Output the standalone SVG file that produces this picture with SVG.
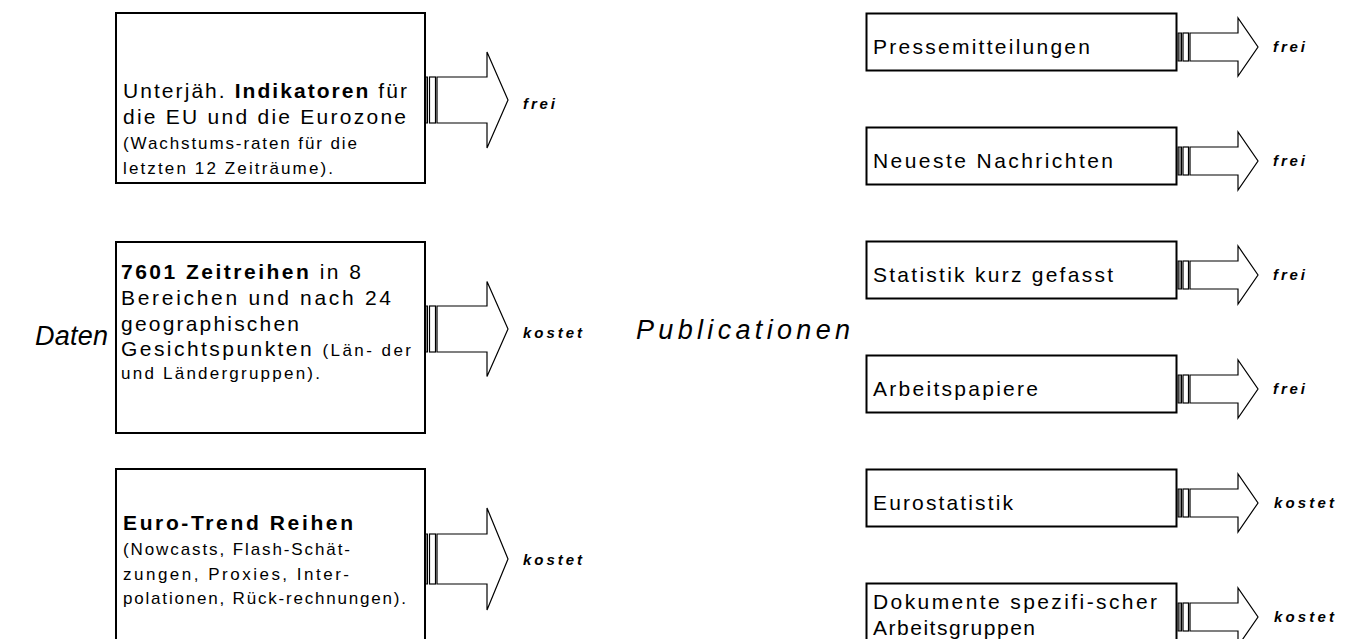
<svg xmlns="http://www.w3.org/2000/svg" width="1348" height="639" viewBox="0 0 1348 639">
<style>
.box{fill:#fff;stroke:#000;stroke-width:2}
.t{font-family:"Liberation Sans",Arial,sans-serif;fill:#000}
.m{font-size:21px}
.s{font-size:17px}
.b{font-weight:bold}
.lab{font-family:"Liberation Sans",Arial,sans-serif;font-size:15px;font-weight:bold;font-style:italic;fill:#000}
.big{font-family:"Liberation Sans",Arial,sans-serif;font-size:27px;font-style:italic;fill:#000}
.arr{fill:#fff;stroke:#000;stroke-width:1.2}
.st1{fill:#808080;stroke:#000;stroke-width:1}
.st2{fill:#fff;stroke:#000;stroke-width:1.2}
</style>
<rect width="1348" height="639" fill="#fff"/>

<text class="big" x="35" y="345" textLength="73" lengthAdjust="spacing">Daten</text>
<text class="big" x="636" y="339" textLength="214" lengthAdjust="spacing">Publicationen</text>

<g id="connectors">
  <rect class="st1" x="424.5" y="77" width="3" height="46"/>
  <rect class="st2" x="429.5" y="77" width="6" height="46"/>
  <path class="arr" d="M437,77 H487 V52 L508,100 L487,148 V123 H437 Z"/>
  <rect class="st1" x="424.5" y="306" width="3" height="46"/>
  <rect class="st2" x="429.5" y="306" width="6" height="46"/>
  <path class="arr" d="M437,306 H487 V281.5 L508,329 L487,376.5 V352 H437 Z"/>
  <rect class="st1" x="424.5" y="534" width="3" height="50"/>
  <rect class="st2" x="429.5" y="534" width="6" height="50"/>
  <path class="arr" d="M437,534 H487 V508 L508,559 L487,610 V584 H437 Z"/>
  <rect class="st1" x="1178" y="33" width="3.5" height="28"/>
  <rect class="st2" x="1183" y="33" width="5.5" height="28"/>
  <path class="arr" d="M1190,33 H1238 V18 L1258,47 L1238,76 V61 H1190 Z"/>
  <rect class="st1" x="1178" y="147" width="3.5" height="28"/>
  <rect class="st2" x="1183" y="147" width="5.5" height="28"/>
  <path class="arr" d="M1190,147 H1238 V132 L1258,161 L1238,190 V175 H1190 Z"/>
  <rect class="st1" x="1178" y="261" width="3.5" height="28"/>
  <rect class="st2" x="1183" y="261" width="5.5" height="28"/>
  <path class="arr" d="M1190,261 H1238 V246 L1258,275 L1238,304 V289 H1190 Z"/>
  <rect class="st1" x="1178" y="375" width="3.5" height="28"/>
  <rect class="st2" x="1183" y="375" width="5.5" height="28"/>
  <path class="arr" d="M1190,375 H1238 V360 L1258,389 L1238,418 V403 H1190 Z"/>
  <rect class="st1" x="1178" y="489" width="3.5" height="28"/>
  <rect class="st2" x="1183" y="489" width="5.5" height="28"/>
  <path class="arr" d="M1190,489 H1238 V474 L1258,503 L1238,532 V517 H1190 Z"/>
  <rect class="st1" x="1178" y="603" width="3.5" height="28"/>
  <rect class="st2" x="1183" y="603" width="5.5" height="28"/>
  <path class="arr" d="M1190,603 H1238 V588 L1258,617 L1238,646 V631 H1190 Z"/>
</g>

<g id="labels">
  <text class="lab" x="523" y="109" textLength="32" lengthAdjust="spacing">frei</text>
  <text class="lab" x="523" y="338" textLength="59" lengthAdjust="spacing">kostet</text>
  <text class="lab" x="523" y="565" textLength="59" lengthAdjust="spacing">kostet</text>
  <text class="lab" x="1273" y="52" textLength="32" lengthAdjust="spacing">frei</text>
  <text class="lab" x="1273" y="166" textLength="32" lengthAdjust="spacing">frei</text>
  <text class="lab" x="1273" y="280" textLength="32" lengthAdjust="spacing">frei</text>
  <text class="lab" x="1273" y="394" textLength="32" lengthAdjust="spacing">frei</text>
  <text class="lab" x="1274" y="508" textLength="60" lengthAdjust="spacing">kostet</text>
  <text class="lab" x="1274" y="622" textLength="60" lengthAdjust="spacing">kostet</text>
</g>

<g id="node-indikatoren">
  <rect class="box" x="116" y="13" width="309" height="170"/>
  <text class="t m" x="123" y="98" textLength="284" lengthAdjust="spacing">Unterjäh. <tspan class="b">Indikatoren</tspan> für</text>
  <text class="t m" x="123" y="124" textLength="283" lengthAdjust="spacing">die EU und die Eurozone</text>
  <text class="t s" x="123" y="149" textLength="234" lengthAdjust="spacing">(Wachstums-raten für die</text>
  <text class="t s" x="123" y="174" textLength="210" lengthAdjust="spacing">letzten 12 Zeiträume).</text>
</g>

<g id="node-zeitreihen">
  <rect class="box" x="116" y="242" width="309" height="191"/>
  <text class="t m" x="121" y="279" textLength="240" lengthAdjust="spacing"><tspan class="b">7601 Zeitreihen</tspan> in 8</text>
  <text class="t m" x="121" y="305" textLength="270" lengthAdjust="spacing">Bereichen und nach 24</text>
  <text class="t m" x="121" y="331" textLength="178" lengthAdjust="spacing">geographischen</text>
  <text class="t m" x="121" y="356" textLength="290" lengthAdjust="spacing">Gesichtspunkten <tspan class="s">(Län- der</tspan></text>
  <text class="t s" x="121" y="379" textLength="199" lengthAdjust="spacing">und Ländergruppen).</text>
</g>

<g id="node-eurotrend">
  <rect class="box" x="116" y="469" width="309" height="190"/>
  <text class="t m b" x="123" y="530" textLength="230" lengthAdjust="spacing">Euro-Trend Reihen</text>
  <text class="t s" x="123" y="555" textLength="227" lengthAdjust="spacing">(Nowcasts, Flash-Schät-</text>
  <text class="t s" x="123" y="580" textLength="226" lengthAdjust="spacing">zungen, Proxies, Inter-</text>
  <text class="t s" x="123" y="604" textLength="283" lengthAdjust="spacing">polationen, Rück-rechnungen).</text>
</g>

<g id="node-presse">
  <rect class="box" x="866.5" y="13.5" width="310" height="57"/>
  <text class="t m" x="873" y="54" textLength="217" lengthAdjust="spacing">Pressemitteilungen</text>
</g>
<g id="node-nachrichten">
  <rect class="box" x="866.5" y="127.5" width="310" height="57"/>
  <text class="t m" x="873" y="168" textLength="240" lengthAdjust="spacing">Neueste Nachrichten</text>
</g>
<g id="node-statistik">
  <rect class="box" x="866.5" y="241.5" width="310" height="57"/>
  <text class="t m" x="873" y="282" textLength="240" lengthAdjust="spacing">Statistik kurz gefasst</text>
</g>
<g id="node-arbeitspapiere">
  <rect class="box" x="866.5" y="355.5" width="310" height="57"/>
  <text class="t m" x="873" y="396" textLength="165" lengthAdjust="spacing">Arbeitspapiere</text>
</g>
<g id="node-eurostatistik">
  <rect class="box" x="866.5" y="469.5" width="310" height="57"/>
  <text class="t m" x="873" y="510" textLength="140" lengthAdjust="spacing">Eurostatistik</text>
</g>
<g id="node-dokumente">
  <rect class="box" x="866.5" y="583.5" width="310" height="70"/>
  <text class="t m" x="873" y="609" textLength="284" lengthAdjust="spacing">Dokumente spezifi-scher</text>
  <text class="t m" x="873" y="635" textLength="162" lengthAdjust="spacing">Arbeitsgruppen</text>
</g>
</svg>
